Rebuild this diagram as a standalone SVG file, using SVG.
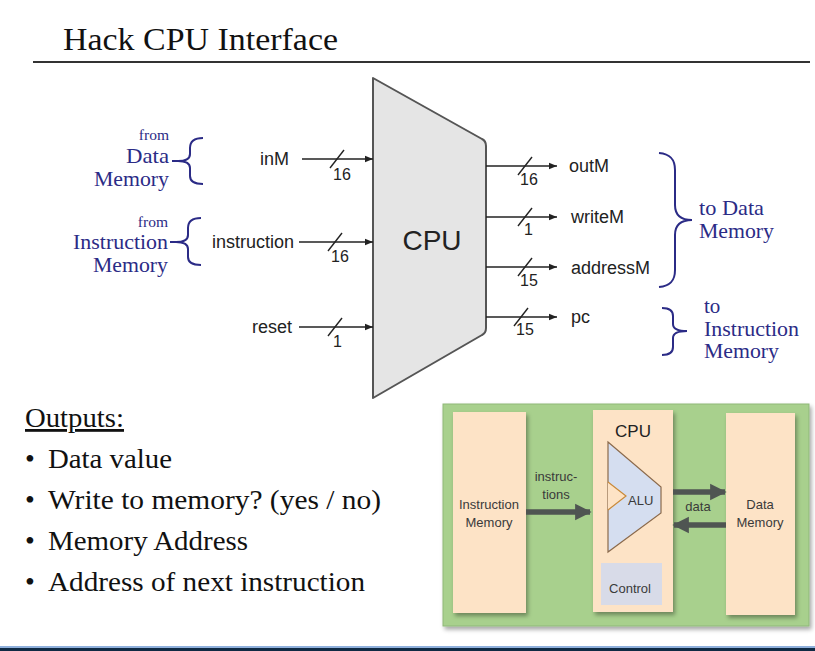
<svg xmlns="http://www.w3.org/2000/svg" width="815" height="651" viewBox="0 0 815 651">
  <style>
    .serif { font-family: "Liberation Serif", "Times New Roman", serif; }
    .sans { font-family: "Liberation Sans", Arial, sans-serif; }
    .pin { font-family: "Liberation Sans", Arial, sans-serif; font-size: 18px; fill: #222; }
    .width { font-family: "Liberation Sans", Arial, sans-serif; font-size: 16px; fill: #222; }
    .wire { stroke: #222; stroke-width: 1.6; fill: none; }
    .slash { stroke: #222; stroke-width: 1.4; }
    .note { font-family: "Liberation Serif", "Times New Roman", serif; fill: #2b2b86; }
    .brace { stroke: #2b2b86; stroke-width: 2; fill: none; }
    .bullet { font-family: "Liberation Serif", "Times New Roman", serif; font-size: 28px; fill: #111; }
    .box { fill: #fde3c6; }
    .small { font-family: "Liberation Sans", Arial, sans-serif; font-size: 13px; fill: #3a3a3a; }
    .fat { stroke: #4f5552; stroke-width: 5.5; fill: none; }
  </style>
  <defs>
    <marker id="tip" viewBox="0 0 10 10" refX="10" refY="5" markerWidth="10" markerHeight="8" markerUnits="userSpaceOnUse" orient="auto">
      <path d="M0,1 L10,5 L0,9 Z" fill="#222"/>
    </marker>
    <marker id="fatTip" viewBox="0 0 10 10" refX="9" refY="5" markerWidth="3" markerHeight="3.2" orient="auto">
      <path d="M0,0 L10,5 L0,10 Z" fill="#4f5552"/>
    </marker>
    <filter id="shadow" x="-5%" y="-5%" width="115%" height="115%">
      <feDropShadow dx="2" dy="3" stdDeviation="2" flood-color="#000" flood-opacity="0.35"/>
    </filter>
  </defs>

  <rect width="815" height="651" fill="#ffffff"/>

  <!-- title -->
  <g id="title">
    <text class="serif" x="63" y="50" font-size="32" fill="#111" textLength="275" lengthAdjust="spacingAndGlyphs">Hack CPU Interface</text>
    <line x1="33" y1="62" x2="810" y2="62" stroke="#333" stroke-width="2"/>
  </g>

  <!-- CPU block -->
  <g id="cpu">
    <path d="M373,78 L482,139 Q486,141 486,146 L486,328 Q486,333 482,335 L373,398 Z" fill="#e5e5e5" stroke="#555" stroke-width="2" stroke-linejoin="round"/>
    <text class="sans" x="432" y="250" font-size="28" text-anchor="middle" fill="#222">CPU</text>
  </g>

  <!-- connectors: inputs and outputs -->
  <g id="connectors">
    <line class="wire" x1="302" y1="159" x2="373" y2="159" marker-end="url(#tip)"/>
    <line class="slash" x1="330" y1="168" x2="344" y2="150"/>
    <line class="wire" x1="299" y1="242" x2="373" y2="242" marker-end="url(#tip)"/>
    <line class="slash" x1="328" y1="251" x2="342" y2="233"/>
    <line class="wire" x1="299" y1="327" x2="373" y2="327" marker-end="url(#tip)"/>
    <line class="slash" x1="328" y1="336" x2="342" y2="318"/>

    <line class="wire" x1="486" y1="166" x2="557" y2="166" marker-end="url(#tip)"/>
    <line class="slash" x1="518" y1="175" x2="532" y2="157"/>
    <line class="wire" x1="486" y1="217" x2="557" y2="217" marker-end="url(#tip)"/>
    <line class="slash" x1="518" y1="226" x2="532" y2="208"/>
    <line class="wire" x1="486" y1="267" x2="557" y2="267" marker-end="url(#tip)"/>
    <line class="slash" x1="518" y1="276" x2="532" y2="258"/>
    <line class="wire" x1="486" y1="317" x2="557" y2="317" marker-end="url(#tip)"/>
    <line class="slash" x1="514" y1="326" x2="528" y2="308"/>
  </g>

  <!-- input pins -->
  <g id="pin-inM">
    <text class="pin" x="289" y="165" text-anchor="end">inM</text>
    <text class="width" x="333" y="180">16</text>
  </g>
  <g id="pin-instruction">
    <text class="pin" x="294" y="248" text-anchor="end">instruction</text>
    <text class="width" x="331" y="262">16</text>
  </g>
  <g id="pin-reset">
    <text class="pin" x="292" y="333" text-anchor="end">reset</text>
    <text class="width" x="333" y="347">1</text>
  </g>

  <!-- output pins -->
  <g id="pin-outM">
    <text class="pin" x="569" y="172">outM</text>
    <text class="width" x="520" y="185">16</text>
  </g>
  <g id="pin-writeM">
    <text class="pin" x="571" y="223">writeM</text>
    <text class="width" x="524" y="235">1</text>
  </g>
  <g id="pin-addressM">
    <text class="pin" x="571" y="274">addressM</text>
    <text class="width" x="520" y="286">15</text>
  </g>
  <g id="pin-pc">
    <text class="pin" x="571" y="323">pc</text>
    <text class="width" x="516" y="335">15</text>
  </g>

  <!-- source / destination notes -->
  <g id="from-data-memory">
    <path class="brace" d="M203,138 C193,138 190,142 190,148 L190,154 C190,159 186,161 178,161 L172,161 M178,161 C186,161 190,164 190,168 L190,176 C190,181 193,184 203,184"/>
    <text class="note" x="169" y="140" font-size="15.5" text-anchor="end">from</text>
    <text class="note" x="169" y="163" font-size="21" text-anchor="end" textLength="43" lengthAdjust="spacingAndGlyphs">Data</text>
    <text class="note" x="169" y="186" font-size="21" text-anchor="end" textLength="75" lengthAdjust="spacingAndGlyphs">Memory</text>
  </g>
  <g id="from-instruction-memory">
    <path class="brace" d="M201,218 C191,218 188,222 188,228 L188,235 C188,240 184,242 176,242 L170,242 M176,242 C184,242 188,245 188,249 L188,257 C188,262 191,265 201,265"/>
    <text class="note" x="168" y="227" font-size="15.5" text-anchor="end">from</text>
    <text class="note" x="168" y="249" font-size="21" text-anchor="end" textLength="95" lengthAdjust="spacingAndGlyphs">Instruction</text>
    <text class="note" x="168" y="272" font-size="21" text-anchor="end" textLength="75" lengthAdjust="spacingAndGlyphs">Memory</text>
  </g>
  <g id="to-data-memory">
    <path class="brace" d="M659,153 C671,154 675,160 675,170 L675,205 C675,215 680,220 692,220 M692,220 C680,220 675,225 675,235 L675,270 C675,280 671,286 659,287"/>
    <text class="note" x="699" y="215" font-size="21" textLength="65" lengthAdjust="spacingAndGlyphs">to Data</text>
    <text class="note" x="699" y="238" font-size="21" textLength="75" lengthAdjust="spacingAndGlyphs">Memory</text>
  </g>
  <g id="to-instruction-memory">
    <path class="brace" d="M662,308 C670,308 673,311 673,316 L673,324 C673,329 677,331 687,331 M687,331 C677,331 673,333 673,338 L673,347 C673,352 670,355 662,355"/>
    <text class="note" x="704" y="313" font-size="21">to</text>
    <text class="note" x="704" y="336" font-size="21" textLength="95" lengthAdjust="spacingAndGlyphs">Instruction</text>
    <text class="note" x="704" y="358" font-size="21" textLength="75" lengthAdjust="spacingAndGlyphs">Memory</text>
  </g>

  <!-- outputs list -->
  <g id="outputs-list">
    <text class="bullet" x="25" y="427" text-decoration="underline" textLength="99" lengthAdjust="spacingAndGlyphs">Outputs:</text>
    <text class="bullet" x="25" y="468">•</text>
    <text class="bullet" x="48" y="468" textLength="124" lengthAdjust="spacingAndGlyphs">Data value</text>
    <text class="bullet" x="25" y="509">•</text>
    <text class="bullet" x="48" y="509" textLength="333" lengthAdjust="spacingAndGlyphs">Write to memory?  (yes / no)</text>
    <text class="bullet" x="25" y="550">•</text>
    <text class="bullet" x="48" y="550" textLength="200" lengthAdjust="spacingAndGlyphs">Memory Address</text>
    <text class="bullet" x="25" y="591">•</text>
    <text class="bullet" x="48" y="591" textLength="317" lengthAdjust="spacingAndGlyphs">Address of next instruction</text>
  </g>

  <!-- computer overview panel -->
  <g id="overview">
    <rect x="443" y="404" width="366" height="222" fill="#a8d08d" stroke="#8fb878" stroke-width="1" filter="url(#shadow)"/>
    <g id="overview-instruction-memory">
      <rect class="box" x="453" y="412" width="73" height="201" filter="url(#shadow)"/>
      <text class="small" x="489" y="509" text-anchor="middle">Instruction</text>
      <text class="small" x="489" y="527" text-anchor="middle">Memory</text>
    </g>
    <g id="overview-cpu">
      <rect class="box" x="593" y="410" width="80" height="202" filter="url(#shadow)"/>
      <text class="sans" x="633" y="437" font-size="17" text-anchor="middle" fill="#222">CPU</text>
      <path d="M608,442 L661,487 L661,513 L608,552 Z" fill="#d5def0" stroke="#8b6a4c" stroke-width="1.2"/>
      <path d="M608,482 L626,496 L608,510" fill="#fde3c6" stroke="#c98a3a" stroke-width="1.2"/>
      <text class="small" x="628" y="505" font-size="12">ALU</text>
      <rect x="601" y="563" width="61" height="42" fill="#d8dbe8"/>
      <text class="small" x="630" y="593" text-anchor="middle">Control</text>
    </g>
    <g id="overview-data-memory">
      <rect class="box" x="726" y="413" width="69" height="202" filter="url(#shadow)"/>
      <text class="small" x="760" y="509" text-anchor="middle">Data</text>
      <text class="small" x="760" y="527" text-anchor="middle">Memory</text>
    </g>
    <g id="overview-arrows">
      <line class="fat" x1="526" y1="512" x2="590" y2="512" marker-end="url(#fatTip)"/>
      <text class="small" x="556" y="481" text-anchor="middle">instruc-</text>
      <text class="small" x="556" y="499" text-anchor="middle">tions</text>
      <line class="fat" x1="673" y1="492" x2="725" y2="492" marker-end="url(#fatTip)"/>
      <line class="fat" x1="726" y1="525" x2="674" y2="525" marker-end="url(#fatTip)"/>
      <text class="small" x="698" y="511" text-anchor="middle">data</text>
    </g>
  </g>

  <!-- footer bar -->
  <rect x="0" y="646" width="815" height="2" fill="#8fb0dc"/>
  <rect x="0" y="648" width="815" height="3" fill="#0f2a44"/>
</svg>
